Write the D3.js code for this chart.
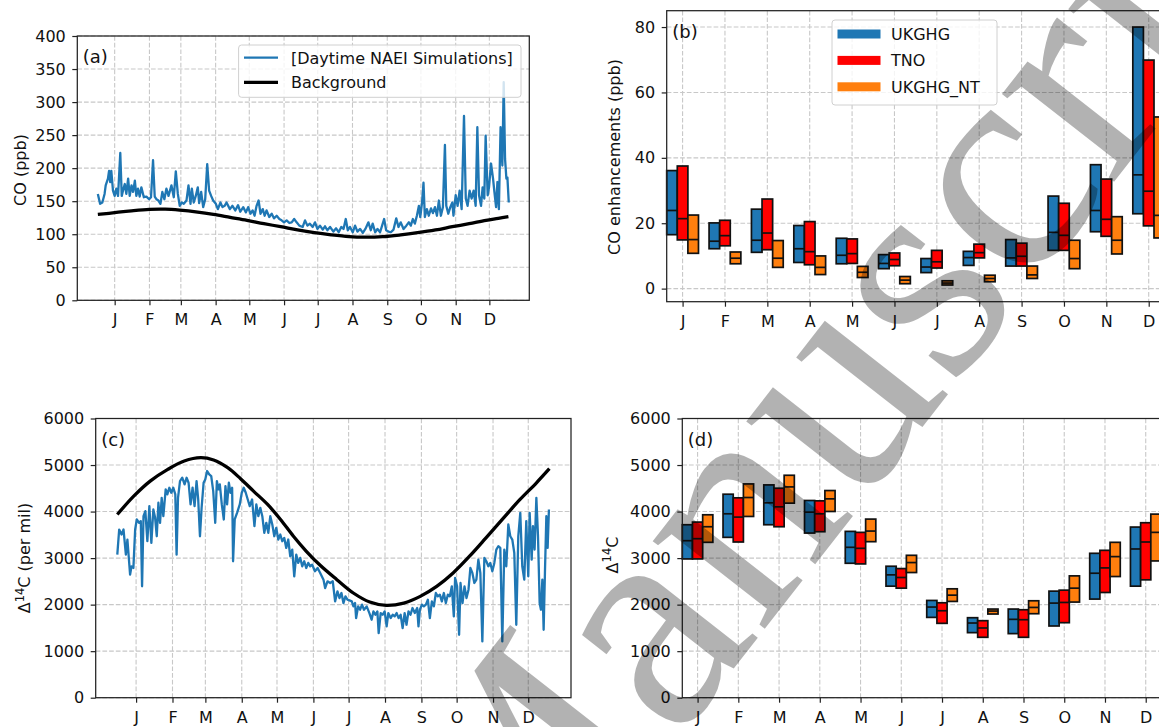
<!DOCTYPE html>
<html>
<head>
<meta charset="utf-8">
<script src="https://cdn.jsdelivr.net/npm/d3@7"></script>
<style>
  body { margin: 0; background: #fff; }
  svg { display: block; font-family: "DejaVu Sans", sans-serif; }
</style>
</head>
<body>
<svg id="fig" width="1159" height="727"></svg>
<script>
const months = ['J','F','M','A','M','J','J','A','S','O','N','D'];
const coTicks = [0, 50, 100, 150, 200, 250, 300, 350, 400];
const enhTicks = [0, 20, 40, 60, 80];
const c14Ticks = [0, 1000, 2000, 3000, 4000, 5000, 6000];

// panel (a): [day of 2014, ppb]
const coSim = [[-15,161],[-13,146],[-11,148],[-9,161],[-8,174],[-6,184],[-5,196],[-4,179],[-3,196],[-1.5,166],[0,158],[1.5,169],[3,158],[5,223],[6.3,158],[7.4,166],[9,176],[10.4,161],[12,184],[13.4,158],[15,174],[16.4,164],[18,181],[19.3,158],[20.8,169],[22.3,157],[23.8,171],[26,156],[28.3,157],[30.7,153],[32.4,156],[34.2,212],[35.7,157],[37.2,153],[39,151],[40.8,146],[42.5,164],[44.3,153],[46.1,169],[48,158],[50.6,174],[52.7,156],[54.5,195],[56.3,161],[58,143],[59.8,148],[61.6,146],[64,151],[65.8,174],[67.6,146],[68.8,169],[70.5,148],[72.3,158],[74.1,171],[75.3,147],[77.1,164],[78.9,141],[80.7,153],[82.5,206],[84.2,166],[86,158],[87.8,151],[90.2,146],[92,138],[94.3,148],[96.1,141],[98,143],[99.7,148],[102.7,138],[105,143],[107.5,136],[110,144],[112,134],[114.6,141],[117,133],[119,141],[121,131],[123,136],[124.7,128],[126.5,143],[128.3,151],[130,131],[132,138],[133.7,128],[135.4,136],[137.8,126],[140,131],[142,124],[144.4,128],[146.8,123],[148.8,121],[151,118],[153.3,121],[155.7,117],[157.8,118],[160,123],[162.2,118],[164.6,113],[167.6,111],[169.7,121],[171.8,113],[174,116],[176.5,111],[178.6,118],[180.7,108],[183,113],[185.5,107],[187.5,112],[189.6,106],[192,111],[195,104],[197.4,109],[199.7,103],[202,111],[204,108],[206,123],[207.8,106],[209.8,111],[212.2,103],[214.3,113],[216.4,104],[218.8,108],[221.2,102],[223.5,108],[226.2,118],[228.3,106],[230,116],[232.2,103],[234.3,108],[236.6,103],[238.4,113],[240.2,123],[242,106],[244,104],[246.2,103],[248.6,107],[251,124],[253,111],[255,118],[257.5,108],[260,113],[262.3,118],[264,113],[265.8,123],[267.6,116],[269.4,128],[271.2,143],[272.4,126],[274,148],[275.3,178],[276.5,126],[278.3,138],[280,128],[282,139],[283.7,132],[285.5,141],[287.3,128],[289,151],[290.8,128],[292.6,141],[294.4,235],[295.6,143],[297.4,131],[299.2,141],[301,148],[302,128],[304,159],[305.7,143],[307.5,166],[309.3,138],[311.4,279],[313,154],[314.6,143],[316.4,166],[318.2,154],[320,166],[321.8,143],[323.3,262],[324.8,159],[326.6,143],[328,171],[329.5,154],[330.7,249],[332.5,159],[333.7,171],[335.5,207],[337.3,184],[338.5,164],[340,141],[341.2,179],[342.5,138],[344,262],[345.6,204],[346.8,330],[348,214],[349.2,184],[350.1,186],[351.3,148]];
const coBackground = [[-15,130],[15,135.5],[31,137.7],[45,138],[58,136.5],[74,133.5],[88,130],[103,125.5],[118,121],[133,116],[148,111.4],[163,106.5],[178,102.3],[193,99],[209,96.3],[223,95.5],[239,96.3],[255,99],[270,102.3],[286,106.5],[301,111.4],[316,116],[331,121],[342,124],[351,126.6]];

// panel (c): [day of 2014, per mil]
const c14Sim = [[-16,3075],[-14.4,3614],[-12.4,3506],[-10.7,3614],[-8.7,3075],[-7.4,3399],[-5.1,2645],[-3.9,2824],[-2.3,2788],[-0.8,3614],[0.6,3830],[2.6,3758],[4,3794],[5.1,2393],[6.3,3901],[7.9,4009],[9.6,3363],[11.3,4117],[13,3327],[14.7,4045],[16.2,3865],[17.6,3470],[19,4189],[20.4,3758],[21.8,4296],[23.2,3901],[25.2,4476],[26.6,4368],[28.3,4512],[30,4404],[31.7,4512],[33.4,4368],[34.5,3075],[35.7,4296],[37.4,4655],[39.3,4727],[41.3,4583],[43,4727],[44.7,4619],[46.4,4153],[48.1,4512],[49.8,4117],[51.5,4655],[52.9,4260],[54.4,3470],[55.8,4081],[57.5,4619],[58.9,4691],[60.5,4871],[62.3,4799],[64,4763],[65.7,4440],[67.4,3758],[68.8,4655],[70.2,4476],[71.3,4583],[73,4153],[74.7,3830],[76.1,4548],[77.5,4153],[79,4619],[80.4,4404],[81.8,4512],[82.6,2932],[84,3830],[86,3973],[88.3,4153],[90,4404],[91.7,4512],[93.4,4404],[95.1,4260],[96.8,4117],[98.8,4260],[100.8,3686],[102.4,4153],[104.1,3901],[105.8,4081],[107.5,3901],[109.2,3542],[110.9,3758],[112.6,3542],[114.3,3901],[116,3722],[117.7,3470],[119.4,3650],[121.1,3399],[122.8,3506],[124.5,3363],[126.2,3434],[127.9,3219],[129.6,3399],[131.3,3040],[133,3183],[134.7,2609],[136.4,3075],[138.1,2896],[139.8,3004],[141.5,2824],[143.2,2932],[144.9,2788],[146.6,2896],[148.3,2824],[150,2860],[152.3,2717],[154.6,2788],[156.8,2681],[159.6,2537],[161,2357],[163,2501],[165.3,2465],[167.5,2501],[169.5,2070],[171.5,2286],[173.2,2142],[174.9,2250],[176.6,2034],[178.3,2178],[180,2106],[181.7,2090],[183.7,2070],[185.1,1963],[186.5,2034],[187.4,1711],[189.1,1963],[190.8,1891],[192.4,1999],[194.1,1891],[196.4,1963],[198.7,1819],[200.6,1675],[202.1,1855],[203.8,1783],[205.5,1855],[206.6,1388],[208.3,1819],[210,1783],[211.7,1855],[213.4,1532],[214.8,1819],[216.8,1711],[218.5,1783],[220.2,1747],[221.9,1819],[223.6,1711],[225.3,1783],[227,1496],[228.7,1819],[230.3,1568],[232,1855],[233.7,1783],[235.4,1927],[237.4,1819],[239.4,1927],[240.5,1532],[241.7,1891],[243.4,1999],[245.1,1963],[246.8,1999],[248.5,2106],[250.2,1711],[251.9,2070],[253.6,1963],[255.3,2250],[257,2178],[258.7,2214],[260.4,2070],[262.1,2250],[263.8,2034],[265.5,2214],[267.2,2178],[268.9,2393],[270.6,1747],[271.7,2573],[273.4,2393],[275.1,1352],[276.3,2465],[278,2034],[279.7,2393],[281.4,2142],[283.1,2321],[284.7,2788],[286.4,2681],[288.1,2465],[289.8,2537],[291.5,2968],[293.2,2681],[294.9,1209],[296.6,3004],[298.3,2932],[300,2824],[301.7,2896],[303.4,2717],[305.1,2896],[306.8,3183],[308.5,3255],[310.2,3219],[311.9,1209],[313.6,3183],[315.3,2824],[317,3722],[318.7,3470],[320.4,3399],[322.1,3111],[323.8,1568],[325.5,3470],[327.2,3973],[328.9,2824],[330.6,2537],[332.3,3794],[334,2609],[335.2,3973],[336.9,2968],[338,3686],[339.4,3183],[340.9,4296],[342.3,3470],[343.7,2034],[344.8,1891],[346,2537],[347.1,1460],[348.2,2681],[349.4,3901],[350.5,3219],[351.6,4045]];
const c14Background = [[-16,3937],[-2,4332],[12,4655],[27,4907],[41,5086],[55,5158],[66,5108],[78,4943],[89,4706],[100,4440],[112,4153],[123,3830],[134,3470],[145,3147],[157,2840],[171,2537],[185,2250],[199,2056],[213,1984],[228,2034],[242,2178],[256,2393],[270,2681],[284,3040],[298,3434],[313,3865],[327,4260],[341,4619],[352,4921]];

// panel (b): monthly [lower quartile, median, upper quartile] in ppb
const coUKGHG    = [[16.5,23.9,36.1],[12.2,14.5,20.1],[11.1,14.8,24.3],[8.0,12.2,19.3],[7.6,10.2,15.4],[6.1,7.7,10.4],[4.9,6.6,9.2],[7.1,9.5,11.4],[6.9,9.4,15.0],[11.7,17.2,28.3],[17.4,23.9,37.9],[22.9,34.8,80.0]];
const coTNO      = [[14.9,21.4,37.5],[13.1,16.2,20.9],[11.9,17.0,27.4],[7.3,11.3,20.5],[7.7,10.7,15.2],[7.0,8.9,10.9],[6.3,8.2,11.7],[9.4,11.0,13.6],[6.9,9.9,13.9],[11.7,16.3,26.1],[16.0,21.2,33.5],[19.2,29.8,69.9]];
const coUKGHG_NT = [[10.8,15.0,22.5],[7.6,9.3,11.2],[6.5,9.3,14.7],[4.3,6.5,10.0],[3.4,5.0,6.8],[1.5,2.6,3.7],[1.1,1.7,2.4],[2.1,3.1,4.1],[3.1,4.2,6.9],[6.1,9.2,14.8],[10.6,14.8,22.0],[15.5,22.4,52.5]];

// panel (d): monthly [lower quartile, median, upper quartile] in per mil
const c14UKGHG    = [[2982,3374,3717],[3446,3952,4373],[3717,4188,4573],[3538,3988,4238],[2889,3232,3574],[2397,2640,2825],[1726,1948,2090],[1398,1605,1719],[1377,1684,1905],[1541,2033,2290],[2119,2675,3103],[2397,3196,3667]];
const c14TNO      = [[2982,3417,3774],[3346,3881,4295],[3674,4102,4502],[3567,3952,4230],[2875,3210,3553],[2354,2583,2775],[1598,1869,2040],[1298,1498,1655],[1298,1676,1890],[1612,2047,2311],[2261,2789,3167],[2533,3346,3760]];
const c14UKGHG_NT = [[3339,3674,3931],[3895,4302,4594],[4181,4530,4780],[4002,4273,4452],[3353,3581,3838],[2690,2904,3060],[2069,2204,2340],[1798,1862,1905],[1805,1940,2083],[2055,2354,2618],[2604,3032,3339],[2939,3553,3945]];

const inventories = ['UKGHG', 'TNO', 'UKGHG_NT'];
const invColors = ['#1f77b4', '#ff0000', '#ff7f0e'];

const svg = d3.select('#fig');
const base = Date.UTC(2014, 0, 1);
const toDate = d => new Date(base + d * 864e5);
const monthStarts = d3.utcMonth.range(toDate(0), toDate(335));

const gridStyle = sel => sel.attr('stroke', '#c8c8c8').attr('stroke-width', 1.1).attr('stroke-dasharray', '4.7,2');

function axes(g, box, x, y, xTicks, xFmt, yTicks) {
  g.append('g').selectAll('line').data(xTicks).join('line')
    .attr('x1', d => x(d)).attr('x2', d => x(d)).attr('y1', box.t).attr('y2', box.b)
    .call(gridStyle);
  g.append('g').selectAll('line').data(yTicks).join('line')
    .attr('x1', box.l).attr('x2', box.r).attr('y1', d => y(d)).attr('y2', d => y(d))
    .call(gridStyle);

  const xa = g.append('g').attr('transform', `translate(0,${box.b})`)
    .call(d3.axisBottom(x).tickValues(xTicks).tickFormat(xFmt).tickSize(5).tickPadding(8.5));
  const ya = g.append('g').attr('transform', `translate(${box.l},0)`)
    .call(d3.axisLeft(y).tickValues(yTicks).tickFormat(d3.format('d')).tickSize(5).tickPadding(6.5));
  [xa, ya].forEach(a => {
    a.select('.domain').remove();
    a.selectAll('line').attr('stroke', '#222').attr('stroke-width', 1.2);
    a.selectAll('text').attr('font-size', 16).attr('fill', '#111').attr('font-family', 'DejaVu Sans');
  });
}

function frame(g, box) {
  g.append('rect').attr('x', box.l).attr('y', box.t)
    .attr('width', box.r - box.l).attr('height', box.b - box.t)
    .attr('fill', 'none').attr('stroke', '#222').attr('stroke-width', 1.25);
}

function panelLabel(g, box, txt) {
  g.append('text').attr('x', box.l + 5.5).attr('y', box.t + 27)
    .attr('font-size', 18).attr('fill', '#111').text(txt);
}

function linePanel(box, sim, bg, yTicks, label) {
  const g = svg.append('g');
  const ext = d3.extent(sim.concat(bg), d => d[0]);
  const pad = (ext[1] - ext[0]) * 0.05;
  const x = d3.scaleUtc().domain([toDate(ext[0] - pad), toDate(ext[1] + pad)]).range([box.l, box.r]);
  const y = d3.scaleLinear().domain([0, d3.max(yTicks)]).range([box.b, box.t]);
  axes(g, box, x, y, monthStarts, d => months[d.getUTCMonth()], yTicks);
  const line = d3.line().x(d => x(toDate(d[0]))).y(d => y(d[1]));
  g.append('path').datum(sim).attr('d', line)
    .attr('fill', 'none').attr('stroke', '#1f77b4').attr('stroke-width', 2.3).attr('stroke-linejoin', 'round');
  g.append('path').datum(bg).attr('d', line.curve(d3.curveCatmullRom))
    .attr('fill', 'none').attr('stroke', '#000').attr('stroke-width', 3.3);
  frame(g, box);
  panelLabel(g, box, label);
  return g;
}

function boxPanel(box, series, yDomain, yTicks, label) {
  const g = svg.append('g');
  const x = d3.scaleLinear().domain([-0.375, 11.375]).range([box.l, box.r]);
  const y = d3.scaleLinear().domain(yDomain).range([box.b, box.t]);
  axes(g, box, x, y, d3.range(12), i => months[i], yTicks);
  const w = x(0.25) - x(0);
  series.forEach((s, k) => {
    const off = (k - 1) * 0.25;
    const sg = g.append('g');
    sg.selectAll('rect').data(s).join('rect')
      .attr('x', (d, i) => x(i + off) - w / 2).attr('width', w)
      .attr('y', d => y(d[2])).attr('height', d => y(d[0]) - y(d[2]))
      .attr('fill', invColors[k]).attr('stroke', '#111').attr('stroke-width', 1.7);
    sg.selectAll('line').data(s).join('line')
      .attr('x1', (d, i) => x(i + off) - w / 2).attr('x2', (d, i) => x(i + off) + w / 2)
      .attr('y1', d => y(d[1])).attr('y2', d => y(d[1]))
      .attr('stroke', '#111').attr('stroke-width', 1.7);
  });
  frame(g, box);
  panelLabel(g, box, label);
  return g;
}

const boxA = {l: 77.3, r: 529.3, t: 36, b: 300.3};
const boxB = {l: 666.7, r: 1164.6, t: 10.7, b: 301.7};
const boxC = {l: 95.7, r: 571, t: 418.5, b: 697.7};
const boxD = {l: 682.3, r: 1161, t: 418.5, b: 697.7};

const gA = linePanel(boxA, coSim, coBackground, coTicks, '(a)');
const gB = boxPanel(boxB, [coUKGHG, coTNO, coUKGHG_NT], [-4, 85], enhTicks, '(b)');
const gC = linePanel(boxC, c14Sim, c14Background, c14Ticks, '(c)');
const gD = boxPanel(boxD, [c14UKGHG, c14TNO, c14UKGHG_NT], [0, 6000], c14Ticks, '(d)');

// axis titles
function yTitle(x, y, parts) {
  const t = svg.append('text').attr('transform', `translate(${x},${y}) rotate(-90)`)
    .attr('text-anchor', 'middle').attr('font-size', 16).attr('fill', '#111');
  parts.forEach(p => {
    const s = t.append('tspan').text(p.t);
    if (p.sup) s.attr('font-size', 11.5).attr('dy', -6.5);
    if (p.after) s.attr('dy', 6.5);
  });
}
yTitle(26, 170, [{t: 'CO (ppb)'}]);
yTitle(619.5, 157, [{t: 'CO enhancements (ppb)'}]);
yTitle(30, 558, [{t: 'Δ'}, {t: '14', sup: true}, {t: 'C (per mil)', after: true}]);
yTitle(617.5, 555, [{t: 'Δ'}, {t: '14', sup: true}, {t: 'C', after: true}]);

// legend (a)
const legA = gA.append('g');
legA.append('rect').attr('x', 238.6).attr('y', 45).attr('width', 282.4).attr('height', 52.3).attr('rx', 3)
  .attr('fill', '#fff').attr('fill-opacity', 0.8).attr('stroke', '#d0d0d0');
[['[Daytime NAEI Simulations]', '#1f77b4', 2.3], ['Background', '#000', 3.3]].forEach((e, i) => {
  const yy = 57.7 + i * 24.6;
  legA.append('line').attr('x1', 244).attr('x2', 278).attr('y1', yy).attr('y2', yy)
    .attr('stroke', e[1]).attr('stroke-width', e[2]);
  legA.append('text').attr('x', 291).attr('y', yy + 5.8).attr('font-size', 16).attr('fill', '#111').text(e[0]);
});

// legend (b)
const legB = gB.append('g');
legB.append('rect').attr('x', 832).attr('y', 20).attr('width', 165).attr('height', 85).attr('rx', 3)
  .attr('fill', '#fff').attr('fill-opacity', 0.8).attr('stroke', '#d0d0d0');
inventories.forEach((name, i) => {
  const yy = 34 + i * 26.4;
  legB.append('rect').attr('x', 837.5).attr('y', yy - 4.5).attr('width', 43).attr('height', 9)
    .attr('fill', invColors[i]);
  legB.append('text').attr('x', 891).attr('y', yy + 5.8).attr('font-size', 16).attr('fill', '#111').text(name);
});

// "Manuscript" watermark stamped over the page
svg.append('text').attr('transform', 'translate(506,960) rotate(-52)')
  .attr('font-family', 'Liberation Serif').attr('font-size', 310)
  .attr('fill', '#000').attr('fill-opacity', 0.3).text('Manuscript');
</script>
</body>
</html>
